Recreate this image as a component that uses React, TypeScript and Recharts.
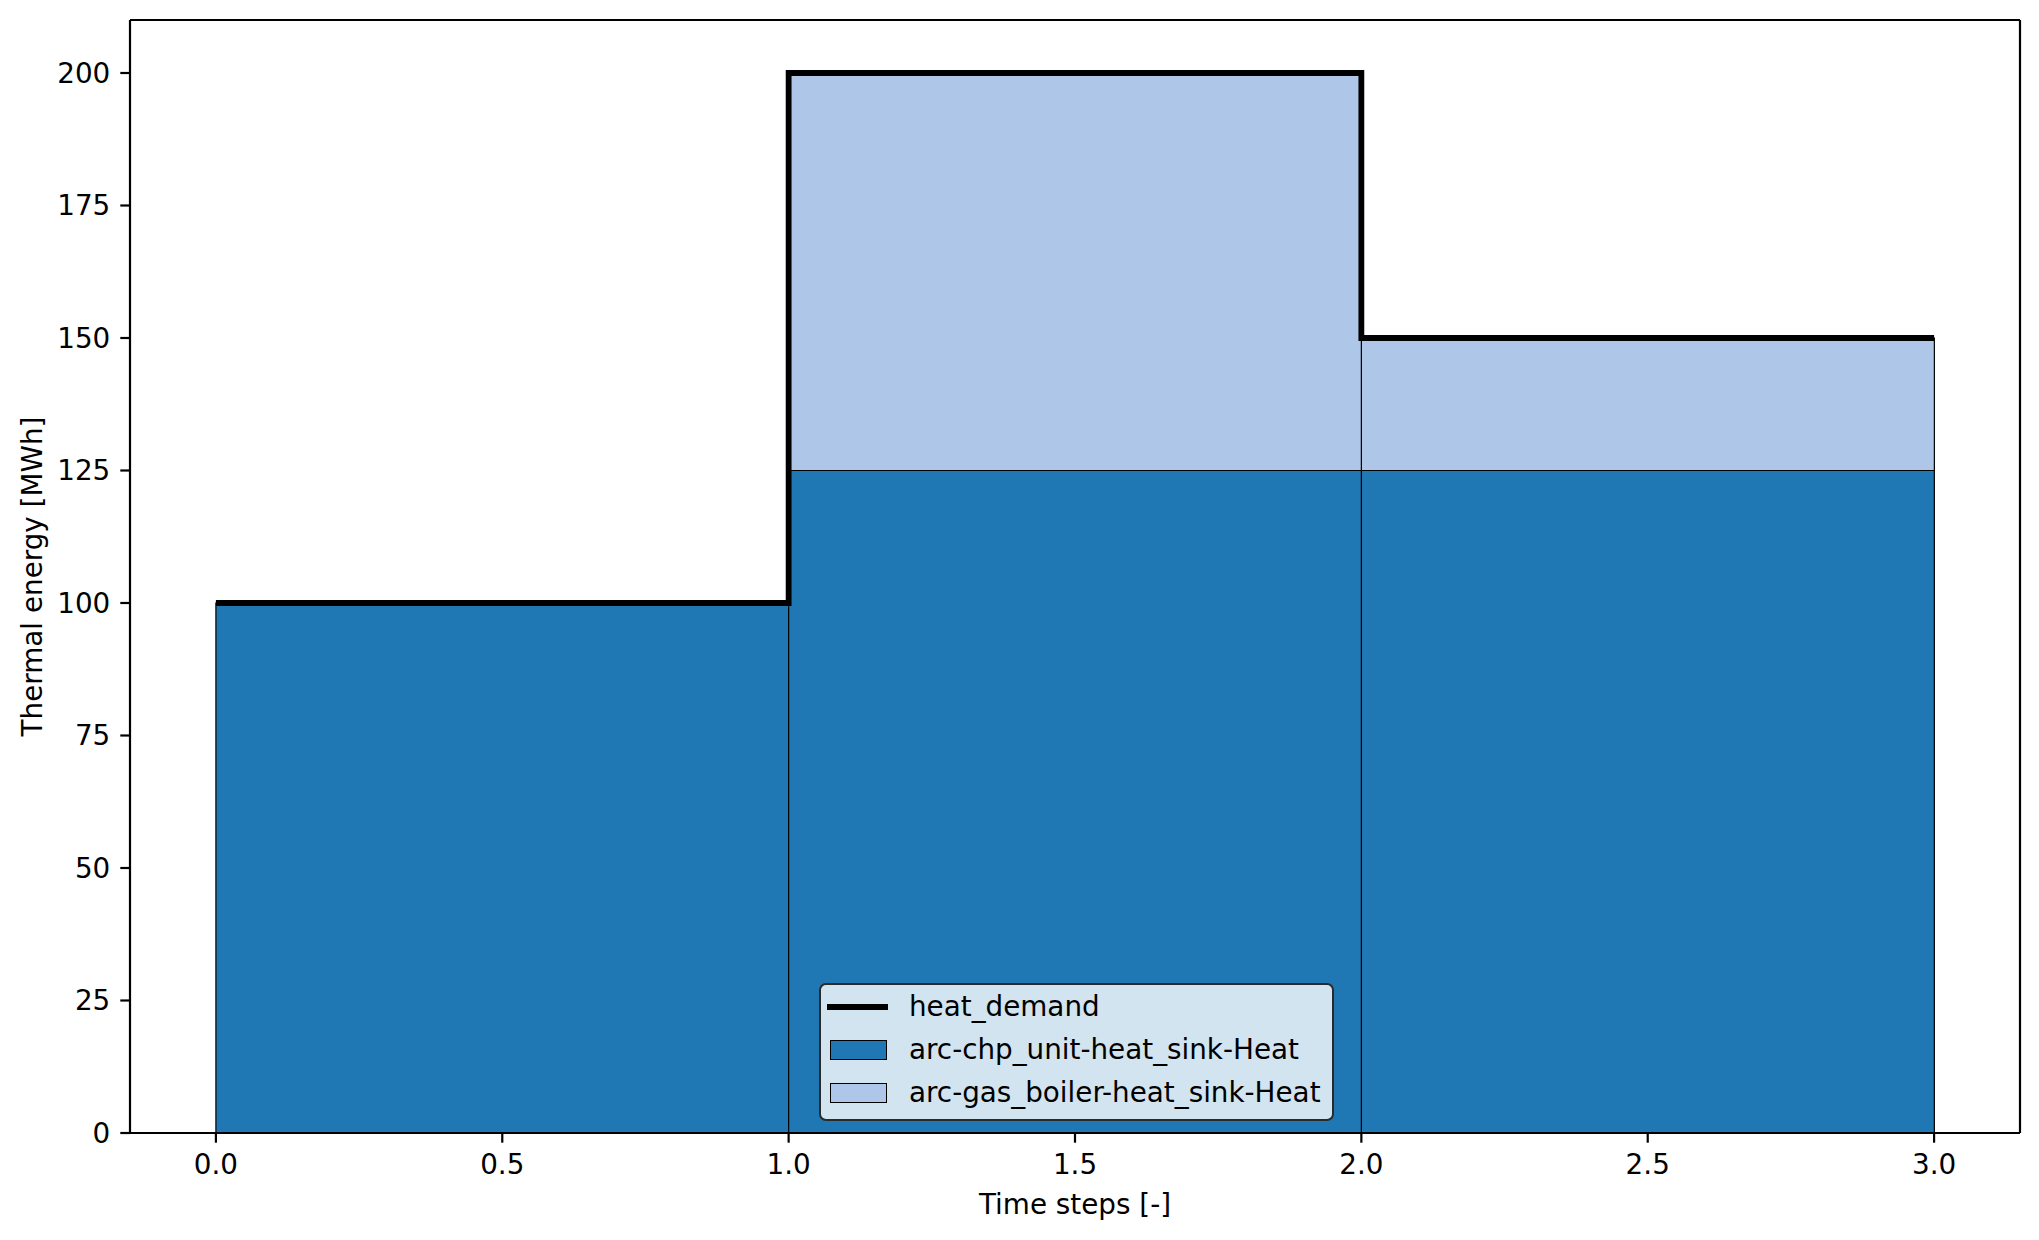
import React from 'react';
import { ComposedChart, Bar, Line, XAxis, YAxis, Legend, Label } from 'recharts';

// ---- data ----
const timeSteps = [0, 1, 2];
const chpHeat = [100, 125, 125];
const gasBoilerHeat = [0, 75, 25];
const heatDemand = [100, 200, 150];
const xTicks = [0, 0.5, 1, 1.5, 2, 2.5, 3];
const yTicks = [0, 25, 50, 75, 100, 125, 150, 175, 200];
const seriesNames = ['heat_demand', 'arc-chp_unit-heat_sink-Heat', 'arc-gas_boiler-heat_sink-Heat'];

// bars span [t, t+1] (edge-aligned, width 1) -> centre at t + 0.5
const barData = timeSteps.map((t, i) => ({ x: t + 0.5, chp: chpHeat[i], gas: gasBoilerHeat[i] }));
// step 'post' line: repeat last value at the end
const demandData = [
  ...timeSteps.map((t, i) => ({ x: t, demand: heatDemand[i] })),
  { x: timeSteps[timeSteps.length - 1] + 1, demand: heatDemand[heatDemand.length - 1] },
];

const FONT = '"DejaVu Sans", sans-serif';
const FS = 27.8;
const C_CHP = '#1f77b4';
const C_GAS = '#aec7e8';
const X_DOMAIN = [-0.15, 3.15];

const YLabel = (props: any) => {
  const vb = props.viewBox || {};
  const cx = 32;
  const cy = vb.y + vb.height / 2;
  return (
    <text x={cx} y={cy} transform={`rotate(-90, ${cx}, ${cy})`} textAnchor="middle" dominantBaseline="central"
      fontFamily={FONT} fontSize={FS} fill="#000">Thermal energy [MWh]</text>
  );
};

const XLabel = (props: any) => {
  const vb = props.viewBox || {};
  const cx = vb.x + vb.width / 2;
  return (
    <text x={cx} y={1204} textAnchor="middle" dominantBaseline="central"
      fontFamily={FONT} fontSize={FS} fill="#000">Time steps [-]</text>
  );
};

const LegendBox = () => {
  const row: React.CSSProperties = { height: 43, display: 'flex', alignItems: 'center', whiteSpace: 'nowrap' };
  const txt: React.CSSProperties = { fontFamily: FONT, fontSize: FS, color: '#000', lineHeight: '43px', flexShrink: 0 };
  const patch: React.CSSProperties = { marginLeft: 9, width: 57, height: 20, border: '1.4px solid #000', boxSizing: 'border-box', flexShrink: 0 };
  return (
    <div style={{
      width: 515, height: 138,
      border: '2px solid #2a2a2a', borderRadius: 7, background: 'rgba(255,255,255,0.8)',
      boxSizing: 'border-box', overflow: 'hidden',
    }}>
      <div style={row}>
        <div style={{ marginLeft: 6, width: 61, height: 6, background: '#000', flexShrink: 0 }} />
        <span style={{ ...txt, marginLeft: 21 }}>{seriesNames[0]}</span>
      </div>
      <div style={row}>
        <div style={{ ...patch, background: C_CHP }} />
        <span style={{ ...txt, marginLeft: 22 }}>{seriesNames[1]}</span>
      </div>
      <div style={row}>
        <div style={{ ...patch, background: C_GAS }} />
        <span style={{ ...txt, marginLeft: 22 }}>{seriesNames[2]}</span>
      </div>
    </div>
  );
};

export default function App() {
  const tickStyle = { fill: '#000', fontSize: FS, fontFamily: FONT };
  const axisLine = { stroke: '#000', strokeWidth: 2.2 };
  const tickLine = { stroke: '#000', strokeWidth: 2.2 };
  return (
    <div style={{ position: 'absolute', left: 0, top: 0, width: 2039, height: 1240, background: '#fff' }}>
      <ComposedChart width={2039} height={1240} data={barData}
        margin={{ top: 19, right: 18, bottom: 0, left: 10 }} barCategoryGap={0} barGap={0}>
        <Bar dataKey="chp" stackId="s" xAxisId="bars" fill={C_CHP} stroke="#000" strokeWidth={1.2} isAnimationActive={false} />
        <Bar dataKey="gas" stackId="s" xAxisId="bars" fill={C_GAS} stroke="#000" strokeWidth={1.2} isAnimationActive={false} />
        <Line data={demandData} dataKey="demand" xAxisId="main" type="stepAfter" stroke="#000" strokeWidth={5.8}
          dot={false} activeDot={false} isAnimationActive={false} />
        <XAxis xAxisId="main" dataKey="x" type="number" domain={X_DOMAIN} ticks={xTicks} allowDataOverflow
          tickFormatter={(v: number) => v.toFixed(1)} height={107} tick={tickStyle} axisLine={axisLine}
          tickLine={tickLine} tickSize={9.7} tickMargin={12} interval={0}>
          <Label content={<XLabel />} />
        </XAxis>
        <XAxis xAxisId="bars" dataKey="x" type="number" domain={X_DOMAIN} allowDataOverflow orientation="top"
          height={1} tick={false} tickLine={false} axisLine={axisLine} />
        <YAxis domain={[0, 210]} ticks={yTicks} allowDataOverflow width={120} tick={tickStyle} axisLine={axisLine}
          tickLine={tickLine} tickSize={9.7} tickMargin={10} interval={0}>
          <Label content={<YLabel />} />
        </YAxis>
        <YAxis yAxisId="right" orientation="right" width={1} tick={false} tickLine={false} axisLine={axisLine} />
        <Legend layout="vertical" align="center" verticalAlign="middle" content={<LegendBox />}
          wrapperStyle={{ position: 'absolute', left: 819, top: 983, width: 515, height: 138 }} />
      </ComposedChart>
    </div>
  );
}
